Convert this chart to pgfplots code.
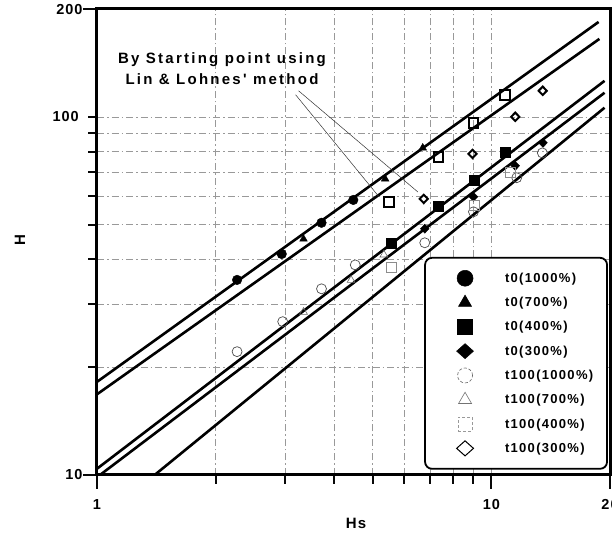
\documentclass[border=0pt]{standalone}
\usepackage{fontspec}
\setmainfont{Liberation Sans}
\newfontfamily\annfont[LetterSpace=15]{Liberation Sans}
\newfontfamily\tfont[LetterSpace=7]{Liberation Sans}
\newfontfamily\lgfont[LetterSpace=10]{Liberation Sans}
\usepackage{pgfplots}
\pgfplotsset{compat=1.18}
\definecolor{tickblack}{rgb}{0.03,0.03,0.03}
\begin{document}
\begin{tikzpicture}
\begin{axis}[
  width=513pt, height=466pt, scale only axis,
  clip mode=individual,
  xmode=log, ymode=log,
  xmin=1, xmax=20, ymin=10, ymax=200,
  xtick={1,10,20}, xticklabels={1,10,20},
  minor xtick={2,3,4,5,6,7,8,9},
  ytick={10,200}, yticklabels={10,\raisebox{-11pt}{200}},
  minor ytick={20,30,40,50,60,70,80,90,100},
  xmajorgrids, xminorgrids, ymajorgrids, yminorgrids,
  major grid style={line width=0.6pt, gray!80, dash pattern=on 7pt off 3pt on 1.5pt off 3pt},
  minor grid style={line width=0.6pt, gray!80, dash pattern=on 7pt off 3pt on 1.5pt off 3pt},
  xtick pos=bottom, ytick pos=left,
  xtick align=outside, ytick align=outside,
  major tick length=14pt, minor tick length=9pt,
  every tick/.style={line width=2pt, tickblack, solid},
  axis line style={line width=3pt},
  ticklabel style={font=\tfont\bfseries\fontsize{14.5}{17}\selectfont},
  xticklabel style={yshift=-7pt},
  yticklabel style={xshift=3pt},
  xlabel={Hs}, ylabel={H},
  every axis x label/.style={at={(axis description cs:0.505,-0.103)}, anchor=center, font=\tfont\bfseries\fontsize{15}{18}\selectfont},
  every axis y label/.style={at={(axis description cs:-0.150,0.504)}, rotate=90, anchor=center, font=\tfont\bfseries\fontsize{15}{18}\selectfont},
  legend style={at={(0.996,0.468)}, anchor=north east, draw=black, line width=1.8pt, rounded corners=7pt,
    inner xsep=10pt, inner ysep=8.3pt, row sep=0pt, column sep=30pt,
    font=\lgfont\bfseries\fontsize{13}{15}\selectfont,
    nodes={inner sep=0pt, text width=92pt, anchor=west}},
  legend cell align=left,
  legend image code/.code={\draw[sharp corners,#1,only marks] plot coordinates {(0pt,0pt)}; \path[draw=none,fill=none] (-30pt,-12.15pt) rectangle (10pt,12.15pt);},
]
% fitted lines
\addplot[line width=2.6pt, no marks, forget plot] coordinates {(1,18.2) (18.71,184)};
\addplot[line width=2.6pt, no marks, forget plot] coordinates {(1,16.8) (18.8,165)};
\addplot[line width=2.6pt, no marks, forget plot] coordinates {(1,10.41) (19.37,126)};
\addplot[line width=2.6pt, no marks, forget plot] coordinates {(1.0175,10) (19.37,116.7)};
\addplot[line width=2.6pt, no marks, forget plot] coordinates {(1.40,10) (19.37,106)};
% t0(1000%)
\addplot[only marks, mark=*, mark size=4.8pt, black, forget plot] coordinates {(2.266,35.05) (2.941,41.4) (3.71,50.6) (4.467,58.6)};
% t0(700%)
\addplot[only marks, mark=triangle*, mark size=4.4pt, black, forget plot] coordinates {(3.34,45.6) (5.38,67.1) (6.70,81.9)};
% t0(400%)
\addplot[only marks, mark=square*, mark size=5pt, black, forget plot] coordinates {(5.57,44.5) (7.355,56.4) (9.06,66.7) (10.85,79.8)};
% t0(300%)
\addplot[only marks, mark=diamond*, mark size=4.5pt, black, mark options={xscale=1.3}, forget plot] coordinates {(6.78,48.7) (9.01,59.8) (11.5,73.0) (13.52,84.6)};
% t100(1000%)
\addplot[only marks, mark=o, mark size=5pt, black!70, line width=0.7pt, forget plot] coordinates {(2.266,22.1) (2.958,26.8) (3.71,33.1) (4.518,38.6) (6.78,44.5) (9.01,54.3) (11.6,67.6) (13.47,79.3)};
% t100(700%)
\addplot[only marks, mark=triangle, mark size=4.5pt, black!60, line width=0.6pt, forget plot] coordinates {(3.34,28.5) (4.41,35.0) (5.34,41.2)};
% t100(400%)
\addplot[only marks, mark=square, mark size=5pt, black!45, line width=0.6pt, forget plot] coordinates {(5.57,37.9) (9.06,56.7) (11.14,70.2)};
\addplot[only marks, mark=square, mark size=4.8pt, black, line width=2pt, forget plot] coordinates {(5.50,57.9) (7.355,77.3) (9.01,96.2) (10.85,115.2)};
% t100(300%)
\addplot[only marks, mark=diamond, mark size=4.2pt, black, line width=2pt, mark options={xscale=1.3}, forget plot] coordinates {(6.74,59.0) (8.96,78.8) (11.5,100) (13.5,118.2)};
% legend
\addlegendimage{mark=*, mark size=8pt, black, line width=0.5pt}
\addlegendentry{t0(1000\%)}
\addlegendimage{mark=triangle*, mark size=7.5pt, black, line width=0.5pt}
\addlegendentry{t0(700\%)}
\addlegendimage{mark=square*, mark size=7.5pt, black, line width=0.5pt}
\addlegendentry{t0(400\%)}
\addlegendimage{mark=diamond*, mark size=7.5pt, black, line width=0.5pt, mark options={xscale=1.5}}
\addlegendentry{t0(300\%)}
\addlegendimage{mark=o, mark size=7.5pt, black!60, line width=0.6pt, mark options={densely dashed}}
\addlegendentry{t100(1000\%)}
\addlegendimage{mark=triangle, mark size=7.5pt, black!55, line width=0.6pt}
\addlegendentry{t100(700\%)}
\addlegendimage{mark=square, mark size=7pt, black!40, line width=0.6pt, mark options={densely dashed}}
\addlegendentry{t100(400\%)}
\addlegendimage{mark=diamond, mark size=7.5pt, black, line width=1pt, mark options={xscale=1.5}}
\addlegendentry{t100(300\%)}
% annotation and 100 tick label
\node[anchor=east, font=\tfont\bfseries\fontsize{14.5}{17}\selectfont, inner sep=0pt, xshift=-18pt] at (rel axis cs:0,0.7686) {100};
\node[align=center, font=\annfont\bfseries\fontsize{15}{21}\selectfont] at (rel axis cs:0.2437,0.871) {By Starting point using\\Lin \& Lohnes' method};
\draw[line width=0.5pt, black!80] (axis cs:3.19,115.2) -- (axis cs:5.19,59.8);
\draw[line width=0.5pt, black!80] (axis cs:3.245,118.2) -- (axis cs:6.51,61.7);
\coordinate (SW) at (rel axis cs:0,0);
\end{axis}
\pgfresetboundingbox
\path (SW) ++(-97pt,-57pt) rectangle ++(612pt,532pt);
\end{tikzpicture}
\end{document}
